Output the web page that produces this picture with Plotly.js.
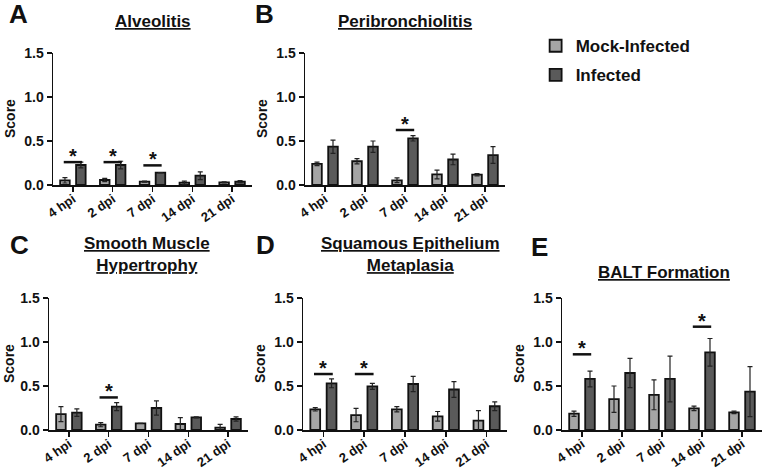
<!DOCTYPE html>
<html>
<head>
<meta charset="utf-8">
<script src="https://cdn.plot.ly/plotly-3.0.1.min.js"></script>
<style>
  html, body { margin: 0; padding: 0; background: #fff; }
  #chart { width: 763px; height: 470px; }
</style>
</head>
<body>
<div id="chart"></div>
<script>
const categories = ["4 hpi", "2 dpi", "7 dpi", "14 dpi", "21 dpi"];

// A - Alveolitis
const alvMock = [0.053, 0.057, 0.038, 0.027, 0.030];
const alvMockErr = [0.030, 0.018, 0.006, 0.018, 0.005];
const alvInf = [0.227, 0.227, 0.140, 0.106, 0.038];
const alvInfErr = [0.033, 0.043, 0.0, 0.044, 0.012];
const alvSig = [[0, 0.26], [1, 0.26], [2, 0.223]];

// B - Peribronchiolitis
const periMock = [0.24, 0.27, 0.053, 0.12, 0.117];
const periMockErr = [0.02, 0.03, 0.027, 0.05, 0.013];
const periInf = [0.435, 0.435, 0.53, 0.29, 0.34];
const periInfErr = [0.075, 0.065, 0.03, 0.06, 0.095];
const periSig = [[2, 0.625]];

// C - Smooth Muscle Hypertrophy
const smMock = [0.18, 0.06, 0.075, 0.068, 0.027];
const smMockErr = [0.085, 0.023, 0.0, 0.072, 0.038];
const smInf = [0.197, 0.265, 0.25, 0.144, 0.125];
const smInfErr = [0.043, 0.045, 0.08, 0.006, 0.025];
const smSig = [[1, 0.37]];

// D - Squamous Epithelium Metaplasia
const sqMock = [0.235, 0.17, 0.235, 0.155, 0.106];
const sqMockErr = [0.019, 0.076, 0.03, 0.055, 0.114];
const sqInf = [0.53, 0.496, 0.523, 0.46, 0.27];
const sqInfErr = [0.05, 0.034, 0.087, 0.09, 0.05];
const sqSig = [[0, 0.636], [1, 0.636]];

// E - BALT Formation
const baltMock = [0.185, 0.35, 0.40, 0.246, 0.20];
const baltMockErr = [0.03, 0.15, 0.17, 0.025, 0.015];
const baltInf = [0.58, 0.648, 0.58, 0.883, 0.436];
const baltInfErr = [0.09, 0.167, 0.26, 0.157, 0.284];
const baltSig = [[0, 0.86], [3, 1.174]];

const W = 763, H = 470;
const FONT = "Liberation Sans, Arial, sans-serif";
const xIdx = categories.map((_, i) => i);

// panel boxes in pixels: [left, right, top, bottom]
const panels = [
    { key: "", box: [53, 252, 53, 185], letter: "A", lx: 18, ly: 14, title: "Alveolitis", tx: 153, ty: 21,
      mock: alvMock, mockErr: alvMockErr, inf: alvInf, infErr: alvInfErr, sig: alvSig },
    { key: "2", box: [305, 505, 53, 185], letter: "B", lx: 264, ly: 14, title: "Peribronchiolitis", tx: 405, ty: 21,
      mock: periMock, mockErr: periMockErr, inf: periInf, infErr: periInfErr, sig: periSig },
    { key: "3", box: [49, 248, 298, 430], letter: "C", lx: 19, ly: 245, title: "Smooth Muscle<br>Hypertrophy", tx: 147, ty: 255,
      mock: smMock, mockErr: smMockErr, inf: smInf, infErr: smInfErr, sig: smSig },
    { key: "4", box: [303, 507, 298, 430], letter: "D", lx: 265, ly: 245, title: "Squamous Epithelium<br>Metaplasia", tx: 410, ty: 255,
      mock: sqMock, mockErr: sqMockErr, inf: sqInf, infErr: sqInfErr, sig: sqSig },
    { key: "5", box: [562, 762, 298, 430], letter: "E", lx: 539, ly: 247, title: "BALT Formation", tx: 664, ty: 272,
      mock: baltMock, mockErr: baltMockErr, inf: baltInf, infErr: baltInfErr, sig: baltSig },
];

const mockColor = "#a5a5a5";
const infColor = "#5a5a5a";

const traces = [];
const shapes = [];
const annotations = [];
const layout = {
    width: W,
    height: H,
    margin: { l: 0, r: 0, t: 0, b: 0 },
    paper_bgcolor: "#fff",
    plot_bgcolor: "#fff",
    font: { family: FONT, color: "#111", weight: "bold" },
    barmode: "overlay",
    showlegend: true,
    legend: {
        x: 0.702, y: 0.94, xanchor: "left", yanchor: "top",
        font: { size: 17, family: FONT, weight: "bold", color: "#111" },
        bgcolor: "rgba(0,0,0,0)",
        tracegroupgap: 4,
    },
};

panels.forEach((p, n) => {
    const [l, r, t, b] = p.box;
    const xa = "x" + p.key, ya = "y" + p.key;

    layout["xaxis" + p.key] = {
        domain: [l / W, r / W],
        anchor: ya,
        range: [-0.5, 4.5],
        tickvals: xIdx,
        ticktext: categories,
        tickangle: -35,
        ticks: "outside",
        ticklen: 5,
        tickwidth: 1.5,
        tickcolor: "#111",
        ticklabelstandoff: -5,
        showline: true,
        linewidth: 1.5,
        linecolor: "#111",
        showgrid: false,
        zeroline: false,
        tickfont: { size: 13, family: FONT, weight: "bold", color: "#111" },
        fixedrange: true,
    };
    layout["yaxis" + p.key] = {
        domain: [1 - b / H, 1 - t / H],
        anchor: xa,
        range: [0, 1.5],
        tickvals: [0, 0.5, 1.0, 1.5],
        tickformat: ".1f",
        ticks: "outside",
        ticklen: 5,
        tickwidth: 1.5,
        tickcolor: "#111",
        showline: true,
        linewidth: 1.5,
        linecolor: "#111",
        showgrid: false,
        zeroline: false,
        tickfont: { size: 14, family: FONT, weight: "bold", color: "#111" },
        fixedrange: true,
    };

    traces.push({
        type: "bar",
        x: xIdx,
        y: p.mock,
        width: 0.24,
        offset: -0.32,
        xaxis: xa,
        yaxis: ya,
        name: "Mock-Infected",
        legendgroup: "mock",
        showlegend: n === 0,
        marker: { color: mockColor, line: { color: "#111", width: 1.8 } },
        error_y: { type: "data", array: p.mockErr, visible: true, color: "#222", thickness: 1.2, width: 2.5 },
    });
    traces.push({
        type: "bar",
        x: xIdx,
        y: p.inf,
        width: 0.24,
        offset: 0.08,
        xaxis: xa,
        yaxis: ya,
        name: "Infected",
        legendgroup: "inf",
        showlegend: n === 0,
        marker: { color: infColor, line: { color: "#111", width: 1.8 } },
        error_y: { type: "data", array: p.infErr, visible: true, color: "#222", thickness: 1.2, width: 2.5 },
    });

    // significance bars
    p.sig.forEach(([i, y]) => {
        shapes.push({
            type: "line", xref: xa, yref: ya,
            x0: i - 0.23, x1: i + 0.23, y0: y, y1: y,
            line: { color: "#111", width: 2.5 },
        });
        annotations.push({
            xref: xa, yref: ya, x: i, y: y,
            text: "*", showarrow: false, xanchor: "center", yanchor: "bottom", yshift: -7,
            font: { size: 20, family: FONT, weight: "bold", color: "#111" },
        });
    });

    // panel letter
    annotations.push({
        xref: "paper", yref: "paper", x: p.lx / W, y: 1 - p.ly / H,
        xanchor: "center", yanchor: "middle",
        text: "<b>" + p.letter + "</b>", showarrow: false,
        font: { size: 26, family: FONT, color: "#111" },
    });
    // panel title
    annotations.push({
        xref: "paper", yref: "paper", x: p.tx / W, y: 1 - p.ty / H,
        xanchor: "center", yanchor: "middle",
        text: "<b><u>" + p.title.split("<br>").join("</u></b><br><b><u>") + "</u></b>",
        showarrow: false,
        font: { size: 17, family: FONT, color: "#111" },
    });
    // y axis title
    annotations.push({
        xref: "paper", yref: "paper", x: Math.max(l - 43, 9) / W, y: 1 - (t + b) / 2 / H,
        xanchor: "center", yanchor: "middle",
        text: "<b>Score</b>", showarrow: false, textangle: -90,
        font: { size: 14, family: FONT, color: "#111" },
    });
});

layout.shapes = shapes;
layout.annotations = annotations;

Plotly.newPlot("chart", traces, layout, { displayModeBar: false, staticPlot: true });
</script>
</body>
</html>
